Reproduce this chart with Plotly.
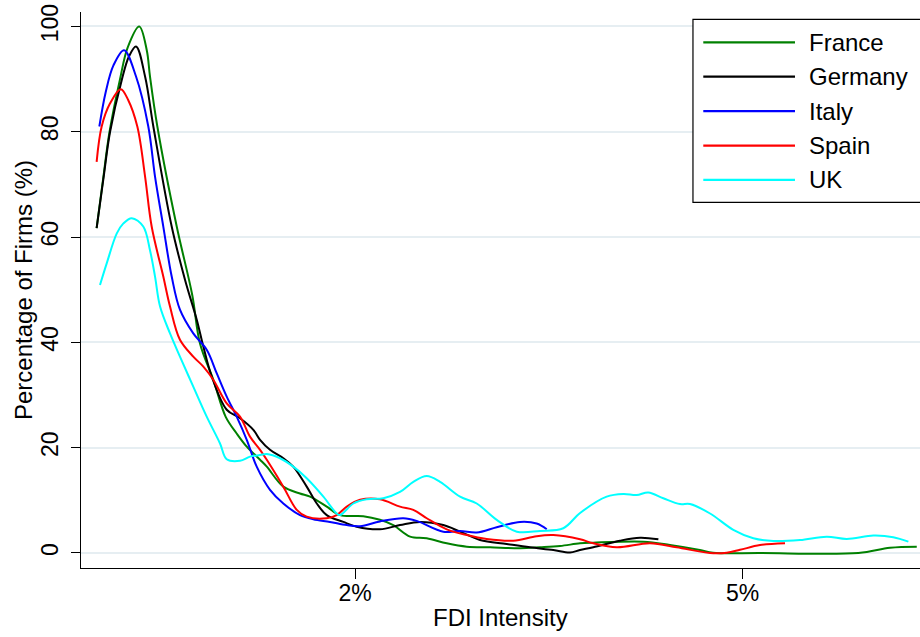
import plotly.graph_objects as go

# FDI intensity (%) and share of firms (%) for each country
france_x = [0.0, 0.05, 0.10, 0.181, 0.24, 0.330, 0.388, 0.413, 0.470, 0.620, 0.74, 0.800,
            0.903, 1.0, 1.084, 1.162, 1.265, 1.317, 1.445, 1.574, 1.652, 1.781, 1.884, 2.064, 2.193,
            2.296, 2.426, 2.555, 2.710, 2.865, 3.045, 3.277, 3.432, 3.587, 3.742, 3.844, 4.231,
            4.437, 4.669, 4.771, 5.135, 5.896, 6.141, 6.348]
france_y = [61.7, 71.0, 80.0, 90.0, 96.0, 100.0, 95.5, 90.5, 81.0, 62.0, 49.0, 39.8,
            32.9, 25.8, 22.7, 20.2, 17.7, 16.4, 12.6, 11.3, 10.7, 8.8, 7.2, 7.0, 6.3,
            5.3, 3.1, 2.8, 1.84, 1.2, 1.08, 0.9, 1.08, 1.33, 1.84, 1.96, 2.15,
            1.52, 0.57, 0.06, 0.0, 0.0, 1.0, 1.2]

germany_x = [0.0, 0.052, 0.104, 0.194, 0.25, 0.305, 0.375, 0.439, 0.581, 0.684, 0.775, 0.826,
             0.891, 1.007, 1.11, 1.213, 1.265, 1.342, 1.445, 1.522, 1.626, 1.704, 1.781, 1.910,
             2.013, 2.193, 2.348, 2.503, 2.683, 2.813, 2.967, 3.174, 3.354, 3.535, 3.664, 3.741,
             3.844, 4.051, 4.206, 4.348]
germany_y = [61.7, 71.0, 80.0, 89.8, 94.3, 96.2, 90.5, 81.0, 62.0, 51.9, 44.3, 39.2,
             33.5, 27.2, 25.6, 23.4, 21.5, 19.6, 18.0, 16.4, 12.6, 9.4, 7.2, 5.9,
             5.0, 4.5, 5.3, 5.9, 5.3, 4.05, 2.47, 1.71, 1.08, 0.57, 0.1, 0.57,
             1.08, 2.34, 2.9, 2.6]

italy_x = [0.021, 0.07, 0.13, 0.212, 0.305, 0.40, 0.452, 0.516, 0.581, 0.645, 0.748, 0.852, 0.93,
           1.007, 1.084, 1.162, 1.239, 1.342, 1.445, 1.574, 1.677, 1.806, 1.936, 2.039, 2.193,
           2.374, 2.477, 2.683, 2.813, 2.942, 3.097, 3.277, 3.406, 3.484]
italy_y = [81.0, 87.5, 92.6, 95.5, 90.5, 81.0, 71.5, 62.0, 52.5, 46.2, 41.7, 38.6, 34.1,
           29.7, 25.9, 21.5, 16.4, 12.0, 9.4, 7.2, 6.4, 5.9, 5.3, 5.1, 6.0,
           6.6, 6.1, 4.05, 4.2, 3.9, 4.9, 5.9, 5.6, 4.5]

spain_x = [0.0, 0.039, 0.104, 0.187, 0.245, 0.315, 0.375, 0.426, 0.516, 0.568, 0.645, 0.748, 0.826,
           0.903, 1.007, 1.11, 1.187, 1.265, 1.317, 1.445, 1.549, 1.626, 1.781, 1.858, 1.936,
           2.039, 2.193, 2.348, 2.451, 2.555, 2.710, 2.865, 3.019, 3.225, 3.406, 3.535, 3.742,
           3.844, 4.026, 4.283, 4.49, 4.748, 4.877, 4.98, 5.135, 5.328]
spain_y = [74.3, 81.0, 85.4, 88.1, 86.0, 81.0, 71.5, 62.0, 52.5, 46.8, 40.5, 37.3, 35.4,
           32.9, 28.4, 25.9, 22.1, 19.6, 17.7, 12.6, 8.2, 6.9, 6.6, 7.2, 8.8,
           10.1, 10.2, 8.8, 8.2, 6.6, 4.5, 3.4, 2.66, 2.34, 3.2, 3.4, 2.6,
           1.84, 1.08, 1.84, 1.08, 0.0, 0.06, 0.6, 1.5, 1.84]

uk_x = [0.026, 0.078, 0.156, 0.207, 0.272, 0.361, 0.413, 0.452, 0.491, 0.568, 0.645, 0.748, 0.852,
        0.955, 1.007, 1.11, 1.187, 1.265, 1.317, 1.42, 1.522, 1.626, 1.755, 1.858, 1.884,
        1.987, 2.09, 2.219, 2.348, 2.451, 2.555, 2.658, 2.813, 2.942, 3.097, 3.252, 3.432,
        3.612, 3.742, 3.948, 4.077, 4.18, 4.27, 4.386, 4.515, 4.593, 4.748, 4.928, 5.083,
        5.238, 5.444, 5.651, 5.806, 6.012, 6.166, 6.283]
uk_y = [50.9, 55.0, 60.7, 62.6, 63.6, 62.0, 57.5, 52.5, 46.8, 41.7, 37.3, 31.6, 25.9,
        20.8, 17.8, 17.5, 18.3, 18.6, 18.8, 18.0, 16.4, 14.2, 10.7, 7.5, 7.2,
        9.4, 10.2, 10.4, 11.6, 13.5, 14.6, 13.5, 10.7, 9.4, 6.3, 4.05, 4.2,
        4.7, 7.6, 10.7, 11.2, 11.0, 11.5, 10.4, 9.3, 9.3, 7.5, 4.4, 2.8,
        2.28, 2.47, 3.1, 2.66, 3.3, 3.0, 2.15]

countries = ["France", "Germany", "Italy", "Spain", "UK"]
colors = ["#008000", "#000000", "#0000ff", "#ff0000", "#00ffff"]
series_x = [france_x, germany_x, italy_x, spain_x, uk_x]
series_y = [france_y, germany_y, italy_y, spain_y, uk_y]

x_tick_vals = [2, 5]
x_tick_text = ["2%", "5%"]
y_tick_vals = [0, 20, 40, 60, 80, 100]

FONT = "Liberation Sans, Arial, Helvetica, sans-serif"

fig = go.Figure()
for name, col, xs, ys in zip(countries, colors, series_x, series_y):
    fig.add_trace(go.Scatter(
        x=xs, y=ys, mode="lines", name=name,
        line=dict(color=col, width=2, shape="spline", smoothing=1.0),
        showlegend=False,
    ))

# Boxed legend with long line samples, placed in the upper right
shapes = [dict(type="rect", xref="paper", yref="paper",
               x0=0.7294, x1=1.01, y0=0.6577, y1=0.9869,
               line=dict(color="black", width=1.2), fillcolor="white", layer="above")]
annotations = []
top_item, step = 0.9455, 0.0619
for i, (name, col) in enumerate(zip(countries, colors)):
    yy = top_item - i * step
    shapes.append(dict(type="line", xref="paper", yref="paper",
                       x0=0.7417, x1=0.8510, y0=yy, y1=yy,
                       line=dict(color=col, width=2.2), layer="above"))
    annotations.append(dict(xref="paper", yref="paper", x=0.8650, y=yy,
                            text=name, showarrow=False, xanchor="left", yanchor="middle",
                            font=dict(family=FONT, size=24, color="black")))

# Axis titles
annotations.append(dict(xref="paper", yref="paper", x=0.5, y=-0.0899,
                        text="FDI Intensity", showarrow=False,
                        xanchor="center", yanchor="middle",
                        font=dict(family=FONT, size=24, color="black")))
annotations.append(dict(xref="paper", yref="paper", x=-0.0691, y=0.5,
                        text="Percentage of Firms (%)", showarrow=False, textangle=-90,
                        xanchor="center", yanchor="middle",
                        font=dict(family=FONT, size=24, color="black")))

fig.update_layout(
    width=920, height=637,
    margin=dict(l=81, r=0, t=12, b=69),
    paper_bgcolor="white", plot_bgcolor="white",
    font=dict(family=FONT, size=23, color="black"),
    shapes=shapes, annotations=annotations,
    showlegend=False,
)
fig.update_xaxes(
    range=[-0.121, 6.373], tickvals=x_tick_vals, ticktext=x_tick_text,
    showgrid=False, zeroline=False,
    showline=True, linecolor="black", linewidth=1.3,
    ticks="outside", ticklen=10, tickwidth=1.2, tickcolor="black",
    tickfont=dict(size=23), ticklabelstandoff=-6,
)
fig.update_yaxes(
    range=[-2.85, 102.75], tickvals=y_tick_vals,
    showgrid=True, gridcolor="#e6eef2", gridwidth=1.6, zeroline=False,
    showline=True, linecolor="black", linewidth=1.3,
    ticks="outside", ticklen=9, tickwidth=1.2, tickcolor="black",
    tickangle=-90, tickfont=dict(size=23), ticklabelstandoff=4,
)

fig.write_html("out.html")
